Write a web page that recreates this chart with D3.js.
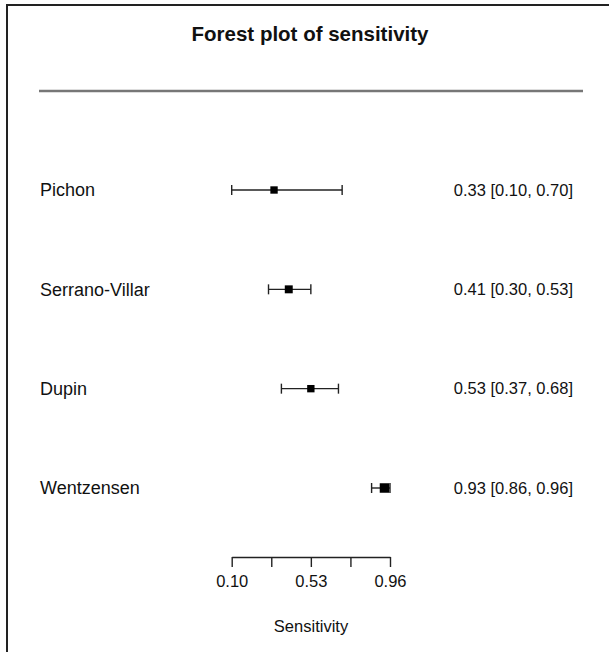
<!DOCTYPE html>
<html>
<head>
<meta charset="utf-8">
<script src="https://cdn.jsdelivr.net/npm/d3@7"></script>
<style>
  html, body { margin: 0; padding: 0; background: #fff; }
  svg { display: block; }
  text { font-family: "Liberation Sans", Arial, Helvetica, sans-serif; fill: #111; }
</style>
</head>
<body>
<svg id="chart" width="609" height="652"></svg>
<script>
// ---- data ----
const studies   = ["Pichon", "Serrano-Villar", "Dupin", "Wentzensen"];
const estimates = [0.33, 0.41, 0.53, 0.93];
const lower     = [0.10, 0.30, 0.37, 0.86];
const upper     = [0.70, 0.53, 0.68, 0.96];
const weights   = [6, 7, 6, 10];           // relative study weights (marker size)
const tickValues = [0.10, 0.315, 0.53, 0.745, 0.96];
const tickLabels = ["0.10", "", "0.53", "", "0.96"];
const title  = "Forest plot of sensitivity";
const xTitle = "Sensitivity";

// ---- layout ----
const W = 609, H = 652;
const svg = d3.select("#chart");

const x = d3.scaleLinear().domain([0.10, 0.96]).range([231.7, 390]);
const y = d3.scalePoint().domain(studies).range([190, 488]);
const size = d3.scaleSqrt().domain([0, 10]).range([0, 9.5]);

const rows = studies.map((s, i) => ({
  name: s, est: estimates[i], lo: lower[i], hi: upper[i], w: weights[i]
}));

// frame (top and left border)
svg.append("path")
  .attr("d", `M7,${H} L7,5 L${W},5`)
  .attr("fill", "none").attr("stroke", "#222").attr("stroke-width", 2);

// title
svg.append("text")
  .attr("x", 310).attr("y", 41)
  .attr("text-anchor", "middle")
  .attr("font-size", 20.5).attr("font-weight", "bold")
  .text(title);

// separator line
svg.append("line")
  .attr("x1", 39).attr("x2", 583).attr("y1", 91).attr("y2", 91)
  .attr("stroke", "#777").attr("stroke-width", 2.5);

const g = svg.append("g");

const row = g.selectAll("g.row").data(rows).join("g").attr("class", "row")
  .attr("transform", d => `translate(0,${y(d.name)})`);

// labels
row.append("text")
  .attr("x", 40).attr("y", 0).attr("dy", "0.35em")
  .attr("font-size", 18)
  .text(d => d.name);

// CI line
row.append("line")
  .attr("x1", d => x(d.lo)).attr("x2", d => x(d.hi))
  .attr("stroke", "#222").attr("stroke-width", 1.4);
// caps
row.selectAll("line.cap").data(d => [d.lo, d.hi]).join("line").attr("class", "cap")
  .attr("x1", v => x(v)).attr("x2", v => x(v))
  .attr("y1", -5).attr("y2", 5)
  .attr("stroke", "#222").attr("stroke-width", 1.4);
// squares
row.append("rect")
  .attr("x", d => x(d.est) - size(d.w) / 2)
  .attr("y", d => -size(d.w) / 2)
  .attr("width", d => size(d.w)).attr("height", d => size(d.w))
  .attr("fill", "#000");

// right-hand text
const f = d3.format(".2f");
row.append("text")
  .attr("x", 573).attr("y", 0).attr("dy", "0.35em")
  .attr("text-anchor", "end")
  .attr("font-size", 16.5)
  .text(d => `${f(d.est)} [${f(d.lo)}, ${f(d.hi)}]`);

// x axis
const axis = d3.axisBottom(x)
  .tickValues(tickValues)
  .tickFormat((d, i) => tickLabels[i])
  .tickSize(10).tickSizeOuter(0).tickPadding(8);

const ax = svg.append("g")
  .attr("transform", "translate(0,557)")
  .call(axis);
ax.select(".domain").attr("stroke", "#222").attr("stroke-width", 1.4);
ax.selectAll(".tick line").attr("stroke", "#222").attr("stroke-width", 1.4);
ax.selectAll(".tick text")
  .attr("font-size", 16.5)
  .attr("font-family", "'Liberation Sans', Arial, Helvetica, sans-serif")
  .attr("fill", "#111");

svg.append("text")
  .attr("x", 311).attr("y", 632)
  .attr("text-anchor", "middle")
  .attr("font-size", 16.5)
  .text(xTitle);
</script>
</body>
</html>
